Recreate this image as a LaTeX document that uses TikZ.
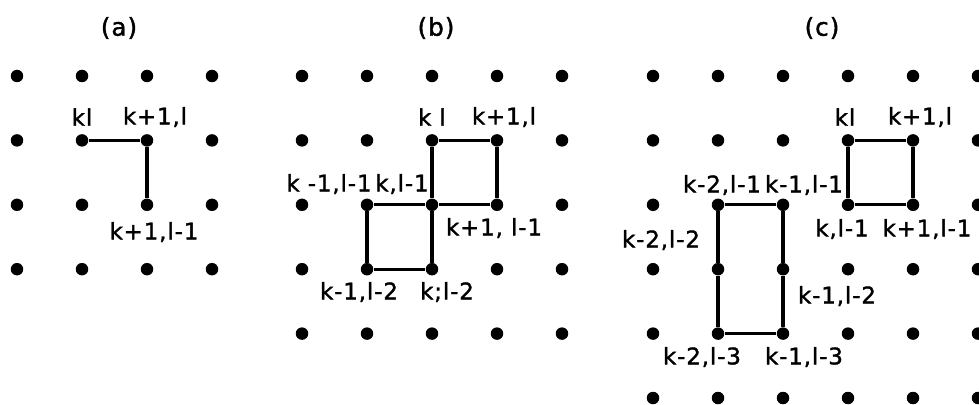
\documentclass[tikz,border=0pt]{standalone}
\usepackage{fontspec}
\setmainfont{DejaVu Sans}[LetterSpace=4, FakeBold=1.5]
\usepackage{tikz}
\usetikzlibrary{positioning}

\begin{document}
\begin{tikzpicture}[
  x=0.02cm, y=-0.02cm,
  dot/.style={circle, fill=black, inner sep=0pt, minimum size=0.25cm},
  link/.style={line width=1.8pt},
  lbl/.style={font=\fontsize{13}{15}\selectfont, inner sep=0pt},
  ttl/.style={font=\fontsize{14}{16}\selectfont, inner sep=0pt}
]
  \useasboundingbox (0,0) rectangle (979,405);

  % Lattices
  \foreach \i in {0,...,3}
    \foreach \j in {0,...,3}
      \node[dot] (a-\i-\j) at ({17+65*\i},{76+64.4*\j}) {};
  \foreach \i in {0,...,4}
    \foreach \j in {0,...,4}
      \node[dot] (b-\i-\j) at ({302+65*\i},{76+64.4*\j}) {};
  \foreach \i in {0,...,5}
    \foreach \j in {0,...,5}
      \node[dot] (c-\i-\j) at ({653+65*\i},{76+64.4*\j}) {};

  % Titles
  \node[ttl] (ta) at (119,28) {(a)};
  \node[ttl] (tb) at (436,28) {(b)};
  \node[ttl] (tc) at (822,28) {(c)};

  % Paths
  \draw[link] (a-1-1) -- (a-2-1) -- (a-2-2);
  \draw[link] (b-2-1) -- (b-3-1) -- (b-3-2) -- (b-2-2) -- (b-2-1);
  \draw[link] (b-1-2) -- (b-2-2) -- (b-2-3) -- (b-1-3) -- (b-1-2);
  \draw[link] (c-3-1) -- (c-4-1) -- (c-4-2) -- (c-3-2) -- (c-3-1);
  \draw[link] (c-1-2) -- (c-2-2) -- (c-2-3) -- (c-2-4) -- (c-1-4)
    -- (c-1-3) -- (c-1-2);

  % Labels (a)
  \node[lbl] (la1) at (82,117) {kl};
  \node[lbl] (la2) at (155,117) {k+1,l};
  \node[lbl] (la3) at (154,232) {k+1,l-1};

  % Labels (b)
  \node[lbl] (lb1) at (432,117) {k l};
  \node[lbl] (lb2) at (504,117) {k+1,l};
  \node[lbl] (lb3) at (329,184) {k -1,l-1};
  \node[lbl] (lb4) at (402,184) {k,l-1};
  \node[lbl] (lb5) at (494,228) {k+1, l-1};
  \node[lbl] (lb6) at (359,292) {k-1,l-2};
  \node[lbl] (lb7) at (447,292) {k;l-2};

  % Labels (c)
  \node[lbl] (lc1) at (845,117) {kl};
  \node[lbl] (lc2) at (920,117) {k+1,l};
  \node[lbl] (lc3) at (722,185) {k-2,l-1};
  \node[lbl] (lc4) at (804,185) {k-1,l-1};
  \node[lbl] (lc5) at (842,229) {k,l-1};
  \node[lbl] (lc6) at (927,229) {k+1,l-1};
  \node[lbl] (lc7) at (661,240) {k-2,l-2};
  \node[lbl] (lc8) at (837,296) {k-1,l-2};
  \node[lbl] (lc9) at (702,357) {k-2,l-3};
  \node[lbl] (lc10) at (804,357) {k-1,l-3};
\end{tikzpicture}
\end{document}
